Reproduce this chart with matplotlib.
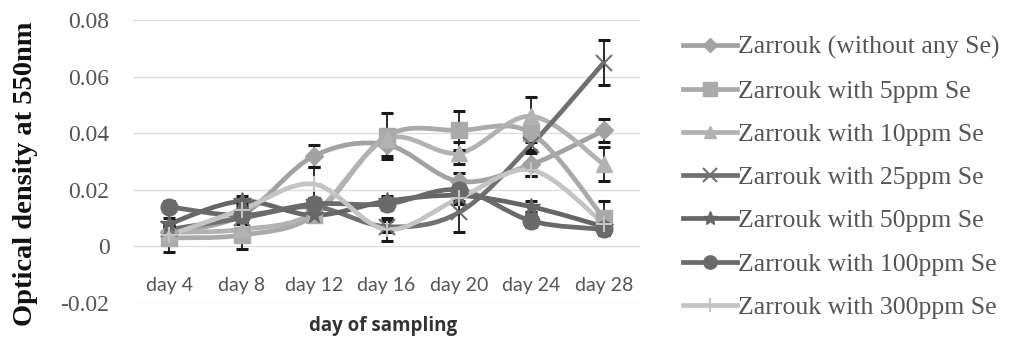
import numpy as np
import matplotlib
matplotlib.use("Agg")
import matplotlib.pyplot as plt
from matplotlib.path import Path
from matplotlib.patches import PathPatch
from matplotlib.lines import Line2D

days = ["day 4", "day 8", "day 12", "day 16", "day 20", "day 24", "day 28"]

labels = ["Zarrouk (without any Se)", "Zarrouk with 5ppm Se", "Zarrouk with 10ppm Se",
          "Zarrouk with 25ppm Se", "Zarrouk with 50ppm Se", "Zarrouk with 100ppm Se",
          "Zarrouk with 300ppm Se"]

se_0 = [0.005, 0.011, 0.032, 0.036, 0.023, 0.029, 0.041]
se_5 = [0.003, 0.004, 0.011, 0.039, 0.041, 0.040, 0.010]
se_10 = [0.005, 0.006, 0.012, 0.038, 0.033, 0.046, 0.029]
se_25 = [0.006, 0.010, 0.014, 0.007, 0.012, 0.036, 0.065]
se_50 = [0.008, 0.016, 0.011, 0.016, 0.018, 0.014, 0.007]
se_100 = [0.014, 0.011, 0.015, 0.015, 0.020, 0.009, 0.006]
se_300 = [0.004, 0.013, 0.022, 0.006, 0.017, 0.027, 0.008]

err_0 = [0.002, 0.002, 0.004, 0.004, 0.003, 0.004, 0.004]
err_5 = [0.005, 0.005, 0.002, 0.008, 0.007, 0.003, 0.006]
err_10 = [0.002, 0.002, 0.002, 0.003, 0.004, 0.007, 0.006]
err_25 = [0.002, 0.002, 0.003, 0.002, 0.007, 0.002, 0.008]
err_50 = [0.002, 0.002, 0.002, 0.002, 0.002, 0.002, 0.002]
err_100 = [0.002, 0.002, 0.002, 0.002, 0.002, 0.002, 0.002]
err_300 = [0.002, 0.002, 0.006, 0.004, 0.002, 0.002, 0.002]

series = [se_0, se_5, se_10, se_25, se_50, se_100, se_300]
errors = [err_0, err_5, err_10, err_25, err_50, err_100, err_300]
colors = ["#a2a2a2", "#aaaaaa", "#b2b2b2", "#707070", "#666666", "#6a6a6a", "#c4c4c4"]
markers = ["D", "s", "^", "x", "*", "o", "+"]
msizes = [9, 12, 11, 12, 13, 12, 12]


def smooth_path(xs, ys):
    # excel-like smoothed line: bezier segments through every point
    pts = np.column_stack([xs, ys]).astype(float)
    n = len(pts)
    verts = [pts[0]]
    codes = [Path.MOVETO]
    for i in range(n - 1):
        p0 = pts[max(i - 1, 0)]
        p1 = pts[i]
        p2 = pts[i + 1]
        p3 = pts[min(i + 2, n - 1)]
        c1 = p1 + (p2 - p0) / 6.0
        c2 = p2 - (p3 - p1) / 6.0
        verts += [c1, c2, p2]
        codes += [Path.CURVE4] * 3
    return Path(verts, codes)


fig = plt.figure(figsize=(10.11, 3.4), dpi=100)
ax = fig.add_axes([0.1316, 0.1088, 0.5015, 0.832])

x = np.arange(len(days))
handles = []
for vals, errs, col, mk, ms, lab in zip(series, errors, colors, markers, msizes, labels):
    ax.add_patch(PathPatch(smooth_path(x, vals), fill=False, edgecolor=col, lw=3.4,
                           capstyle="round", zorder=3))
    mew = 1.5 if mk in ("x", "+") else 1
    ax.errorbar(x, vals, yerr=errs, fmt="none", ecolor="#1a1a1a", elinewidth=1.3,
                capsize=4, capthick=2.2, zorder=3.5)
    ax.plot(x, vals, linestyle="none", marker=mk, ms=ms, color=col, mec=col, mew=mew, zorder=4)
    handles.append(Line2D([], [], color=col, lw=3.4, marker=mk, ms=ms * 0.8, mec=col, mew=mew))

ax.set_xlim(-0.5, len(days) - 0.5)
ax.set_ylim(-0.02, 0.08)
ax.set_yticks([-0.02, 0, 0.02, 0.04, 0.06, 0.08])
ax.set_yticklabels(["-0.02", "0", "0.02", "0.04", "0.06", "0.08"],
                   family="Liberation Serif", fontsize=17, color="#555555")
ax.yaxis.grid(True, color="#dddddd", lw=1)
ax.set_axisbelow(True)
for side in ["top", "right", "left"]:
    ax.spines[side].set_visible(False)
ax.spines["bottom"].set_position(("data", 0))
ax.spines["bottom"].set_visible(False)
ax.tick_params(axis="y", length=0, pad=17)
ax.tick_params(axis="x", length=0, pad=22)
ax.set_xticks(x)
ax.set_xticklabels(days, family="Lato", fontsize=14, color="#555555")

fig.text(0.025, 0.49, "Optical density at 550nm", rotation=90, ha="center", va="center",
         family="Liberation Serif", fontweight="bold", fontsize=20.5, color="#111111")
fig.text(0.379, 0.04, "day of sampling", ha="center", va="center",
         family="Open Sans", fontweight="bold", fontsize=13.5, color="#333333")

leg = fig.legend(handles, labels, loc="center left", bbox_to_anchor=(0.663, 0.478),
                 frameon=False, prop={"family": "Liberation Serif", "size": 18.5},
                 labelspacing=0.79, handlelength=2.1, handletextpad=0.05, borderpad=0)
for t in leg.get_texts():
    t.set_color("#555555")

fig.savefig("out.png", dpi=100)
